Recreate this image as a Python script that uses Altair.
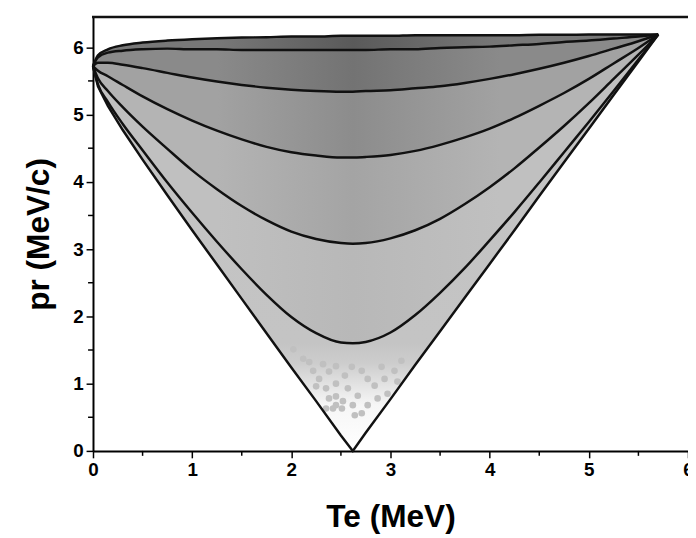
import altair as alt
import pandas as pd

# Electron kinetic energy grid (MeV) and recoil momentum curves (MeV/c)
te = [0, 0.05, 0.15, 0.3, 0.5, 0.75, 1.0, 1.25, 1.5, 1.75, 2.0, 2.25, 2.5, 2.62, 2.75,
      3.0, 3.25, 3.5, 3.75, 4.0, 4.25, 4.5, 4.75, 5.0, 5.25, 5.5, 5.7]
pr_0 = [5.72, 5.88, 5.97, 6.03, 6.07, 6.10, 6.12, 6.135, 6.145, 6.15, 6.16, 6.16, 6.17, 6.17, 6.17,
        6.17, 6.18, 6.18, 6.18, 6.18, 6.18, 6.185, 6.185, 6.19, 6.19, 6.19, 6.19]
pr_30 = [5.72, 5.85, 5.92, 5.95, 5.97, 5.98, 5.97, 5.97, 5.96, 5.96, 5.96, 5.96, 5.96, 5.96, 5.96,
         5.97, 5.97, 5.99, 6.00, 6.01, 6.03, 6.05, 6.08, 6.10, 6.13, 6.16, 6.19]
pr_60 = [5.72, 5.77, 5.77, 5.74, 5.69, 5.62, 5.55, 5.49, 5.44, 5.40, 5.37, 5.35, 5.34, 5.34, 5.35,
         5.36, 5.39, 5.42, 5.47, 5.53, 5.60, 5.68, 5.77, 5.87, 5.98, 6.09, 6.19]
pr_90 = [5.72, 5.65, 5.57, 5.44, 5.27, 5.08, 4.91, 4.76, 4.63, 4.52, 4.44, 4.39, 4.36, 4.36, 4.37,
         4.40, 4.46, 4.55, 4.66, 4.79, 4.95, 5.13, 5.32, 5.53, 5.76, 5.99, 6.19]
pr_120 = [5.72, 5.54, 5.35, 5.11, 4.82, 4.49, 4.17, 3.89, 3.64, 3.43, 3.26, 3.15, 3.09, 3.08, 3.09,
          3.16, 3.28, 3.45, 3.67, 3.92, 4.20, 4.51, 4.83, 5.17, 5.53, 5.89, 6.19]
pr_150 = [5.72, 5.45, 5.19, 4.86, 4.47, 3.99, 3.54, 3.11, 2.70, 2.32, 1.99, 1.75, 1.61, 1.60, 1.62,
          1.76, 2.02, 2.35, 2.72, 3.13, 3.55, 3.99, 4.44, 4.89, 5.35, 5.82, 6.19]
pr_180 = [5.72, 5.42, 5.13, 4.77, 4.33, 3.80, 3.28, 2.77, 2.26, 1.75, 1.24, 0.74, 0.23, 0.0, 0.27,
          0.77, 1.28, 1.78, 2.28, 2.78, 3.28, 3.79, 4.29, 4.79, 5.29, 5.79, 6.19]

# sparse events near the bottom of the allowed region
dot_te = [2.25, 2.35, 2.38, 2.45, 2.51, 2.62, 2.71, 2.77, 2.87, 2.97, 3.07, 2.28, 2.22, 2.45,
          2.57, 2.67, 2.84, 2.94, 2.77, 2.54, 2.38, 3.04, 2.12, 2.18, 2.32, 2.45, 2.61, 2.71,
          2.91, 3.11, 2.02, 2.45, 2.64, 2.42, 2.52, 2.35]
dot_pr = [0.96, 0.93, 0.78, 0.81, 0.63, 0.68, 0.56, 0.68, 0.78, 0.85, 1.03, 1.07, 1.19, 1.00,
          0.93, 0.82, 0.97, 1.07, 1.07, 1.12, 1.18, 1.19, 1.37, 1.32, 1.29, 1.26, 1.25, 1.19,
          1.25, 1.34, 1.51, 0.68, 0.53, 0.63, 0.74, 0.63]

x_ticks = [0, 1, 2, 3, 4, 5, 6]
y_ticks = [0, 1, 2, 3, 4, 5, 6]
x_minor = [0.5, 1.5, 2.5, 3.5, 4.5, 5.5]
y_minor = [0.5, 1.5, 2.5, 3.5, 4.5, 5.5]

W, H = 602, 439
FONT = "Liberation Sans"

wide = pd.DataFrame({"Te": te, "c0": pr_0, "c30": pr_30, "c60": pr_60, "c90": pr_90,
                     "c120": pr_120, "c150": pr_150, "c180": pr_180})
smooth_long = wide.drop(columns=["c180"]).melt(id_vars="Te", var_name="curve", value_name="pr")
vee = pd.DataFrame({"Te": te, "pr": pr_180})
dots = pd.DataFrame({"Te": dot_te, "pr": dot_pr})

xs = alt.Scale(domain=[0, 6], nice=False, zero=False)
ys = alt.Scale(domain=[0, 6.45], nice=False, zero=False)
x_axis = alt.Axis(values=x_ticks, format="d", title="Te (MeV)", titlePadding=22)
y_axis = alt.Axis(values=y_ticks, format="d", title="pr (MeV/c)", titlePadding=17)


def hgrad(edge, center):
    return alt.Gradient(
        gradient="linear", x1=0, x2=1, y1=0, y2=0,
        stops=[alt.GradientStop(offset=0, color=edge),
               alt.GradientStop(offset=0.22, color=edge),
               alt.GradientStop(offset=0.46, color=center),
               alt.GradientStop(offset=0.72, color=edge),
               alt.GradientStop(offset=1, color=edge)])


bottom_grad = alt.Gradient(
    gradient="linear", x1=0, x2=0, y1=0, y2=1,
    stops=[alt.GradientStop(offset=0, color="#c2c2c2"),
           alt.GradientStop(offset=0.74, color="#c4c4c4"),
           alt.GradientStop(offset=0.79, color="#cdcdcd"),
           alt.GradientStop(offset=0.84, color="#e2e2e2"),
           alt.GradientStop(offset=0.89, color="#f6f6f6"),
           alt.GradientStop(offset=1, color="#ffffff")])

base = alt.Chart(wide)


def band(upper, lower, fill, interp="monotone"):
    return base.mark_area(color=fill, interpolate=interp, strokeWidth=0).encode(
        x=alt.X("Te:Q", scale=xs, axis=x_axis),
        y=alt.Y(f"{upper}:Q", scale=ys, axis=y_axis),
        y2=alt.Y2(f"{lower}:Q"),
    )


bands = [
    band("c150", "c180", bottom_grad, "linear"),
    band("c120", "c150", hgrad("#c0c0c0", "#b8b8b8")),
    band("c90", "c120", hgrad("#b4b4b4", "#a4a4a4")),
    band("c60", "c90", hgrad("#a2a2a2", "#8c8c8c")),
    band("c30", "c60", hgrad("#8a8a8a", "#737373")),
    band("c0", "c30", hgrad("#787878", "#5a5a5a")),
]

dot_layer = alt.Chart(dots).mark_circle(size=45, color="#c0c0c0", opacity=1).encode(
    x=alt.X("Te:Q", scale=xs, axis=x_axis),
    y=alt.Y("pr:Q", scale=ys, axis=y_axis),
)

lines = alt.Chart(smooth_long).mark_line(color="#111111", strokeWidth=2.5, interpolate="monotone").encode(
    x=alt.X("Te:Q", scale=xs, axis=x_axis),
    y=alt.Y("pr:Q", scale=ys, axis=y_axis),
    detail="curve:N",
)
vee_line = alt.Chart(vee).mark_line(color="#111111", strokeWidth=2.5, interpolate="linear").encode(
    x=alt.X("Te:Q", scale=xs, axis=x_axis),
    y=alt.Y("pr:Q", scale=ys, axis=y_axis),
)

xminor = alt.Chart(pd.DataFrame({"m": x_minor})).mark_rule(color="black", strokeWidth=1.5).encode(
    x=alt.X("m:Q", scale=xs, axis=x_axis),
    y=alt.value(H),
    y2=alt.value(H + 5),
)
yminor = alt.Chart(pd.DataFrame({"m": y_minor})).mark_rule(color="black", strokeWidth=1.5).encode(
    y=alt.Y("m:Q", scale=ys, axis=y_axis),
    x=alt.value(-5),
    x2=alt.value(0),
)
top_frame = alt.Chart(pd.DataFrame({"m": [0]})).mark_rule(color="#111111", strokeWidth=2.5).encode(
    x=alt.value(-1), x2=alt.value(W), y=alt.value(0)
)

chart = alt.layer(*bands, dot_layer, lines, vee_line, xminor, yminor, top_frame).properties(
    width=W, height=H,
    autosize=alt.AutoSizeParams(type="none"),
    padding={"left": 86, "top": 6, "right": 0, "bottom": 85},
).configure_view(stroke=None).configure_axis(
    grid=False,
    domainColor="black", domainWidth=2,
    tickColor="black", tickWidth=1.5, tickSize=7,
    labelFont=FONT, labelFontWeight="bold", labelFontSize=19, labelColor="black",
    labelPadding=3,
    titleFont=FONT, titleFontWeight="bold", titleFontSize=32, titleColor="black",
).configure_axisX(labelFlush=False).configure_axisY(labelFlush=False)

chart.save("out.html", embed_options={"renderer": "svg", "actions": False})
